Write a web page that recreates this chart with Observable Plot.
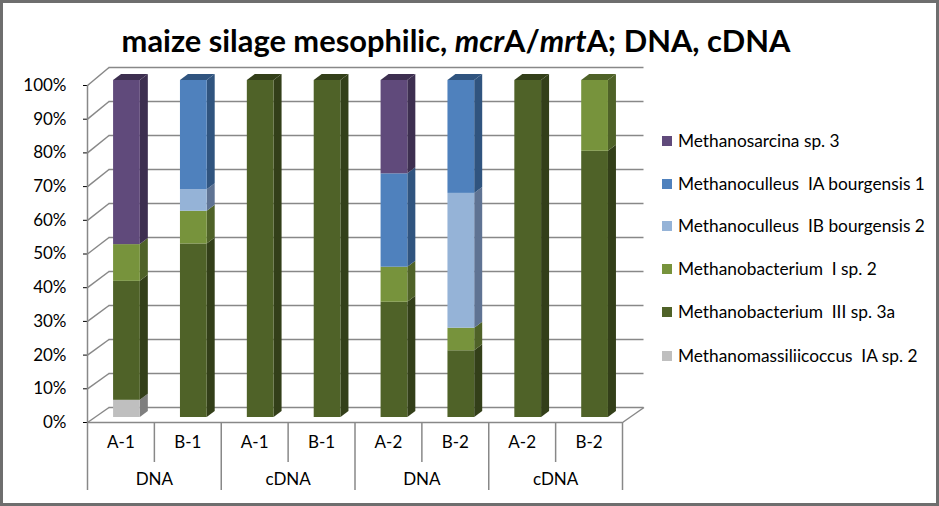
<!DOCTYPE html>
<html><head><meta charset="utf-8">
<script src="https://cdn.jsdelivr.net/npm/d3@7"></script>
<script src="https://cdn.jsdelivr.net/npm/@observablehq/plot@0.6"></script>
<style>
html,body{margin:0;padding:0;background:#fff;}
#chart{position:relative;width:939px;height:506px;overflow:hidden;background:#fff;font-family:Lato,"Open Sans",sans-serif;color:#000;}
#plot{position:absolute;left:0;top:0;}
#frame{position:absolute;left:0;top:0;width:939px;height:506px;box-sizing:border-box;border:3px solid #6e6e6e;pointer-events:none;}
#title{position:absolute;left:0;width:912px;top:24px;text-align:center;font-weight:bold;font-size:28px;line-height:34px;white-space:nowrap;}
.lg{position:absolute;left:662px;height:20px;white-space:pre;font-size:16px;line-height:20px;}
.lg .sw{position:absolute;left:0;top:5px;width:10px;height:10px;}
.lg .tx{position:absolute;left:16px;top:0;}
</style></head><body>
<div id="chart"><div id="plot"></div>
<div id="title"><span id="tspan">maize silage mesophilic, <i>mcr</i>A/<i>mrt</i>A; DNA, cDNA</span></div>
<div id="legend"></div>
<div id="frame"></div></div>
<script>
// ---- data ----
const categories = ["A-1","B-1","A-1","B-1","A-2","B-2","A-2","B-2"];
const groups = ["DNA","cDNA","DNA","cDNA"];
const yTicks = [0,0.1,0.2,0.3,0.4,0.5,0.6,0.7,0.8,0.9,1];
// series, bottom of stack to top (percent)
const seriesNames = ["Methanomassiliicoccus  IA sp. 2","Methanobacterium  III sp. 3a","Methanobacterium  I sp. 2","Methanoculleus  IB bourgensis 2","Methanoculleus  IA bourgensis 1","Methanosarcina sp. 3"];
const massiliicoccusIA2 = [5.1, 0, 0, 0, 0, 0, 0, 0];
const bacteriumIII3a   = [35.3, 51.5, 100, 100, 34.2, 19.8, 100, 79.0];
const bacteriumI2      = [10.9, 9.7, 0, 0, 10.4, 6.7, 0, 21.0];
const culleusIB2       = [0, 6.4, 0, 0, 0, 40.0, 0, 0];
const culleusIA1       = [0, 32.4, 0, 0, 27.7, 33.5, 0, 0];
const sarcina3         = [48.7, 0, 0, 0, 27.7, 0, 0, 0];
const seriesValues = [massiliicoccusIA2, bacteriumIII3a, bacteriumI2, culleusIB2, culleusIA1, sarcina3];
const frontColors = ["#BFBFBF","#4F6228","#77933C","#95B3D7","#4F81BD","#604A7B"];
const sideColors  = ["#7F7F7F","#333F19","#4F6228","#5F7393","#30547F","#3D2F50"];

// ---- geometry (style constants) ----
const X0 = 0.39, BW = 0.40;        // front face inside each category band
const BDX = 8/66.875, BDY = 6/337; // bar depth
const WX = 21.5/66.875, WY0 = 15/337, WS = 340/337; // wall depth
const grid = "#888888";
const N = categories.length;

// stacked segments
const segs = [];
categories.forEach((c, i) => {
  let acc = 0;
  seriesValues.forEach((vals, s) => {
    const v = vals[i] / 100;
    if (v > 0) segs.push({id: i + "-" + s, i, s, y1: acc, y2: acc + v});
    acc += v;
  });
});
const sidePts = segs.flatMap(d => [
  {id: d.id, s: d.s, x: d.i + X0 + BW, y1: d.y1, y2: d.y2},
  {id: d.id, s: d.s, x: d.i + X0 + BW + BDX, y1: d.y1 + BDY, y2: d.y2 + BDY}
]);
const tops = categories.map((c, i) => segs.filter(d => d.i === i).pop());
const topPts = tops.flatMap(d => {
  const a = d.i + X0, b = d.i + X0 + BW, t = d.y2;
  return [
    {id: d.id, s: d.s, x: a, y1: t, y2: t},
    {id: d.id, s: d.s, x: a + BDX, y1: t, y2: t + BDY},
    {id: d.id, s: d.s, x: b, y1: t, y2: t + BDY},
    {id: d.id, s: d.s, x: b + BDX, y1: t + BDY, y2: t + BDY}
  ];
});
const bounds = d3.range(N + 1);

const plot = Plot.plot({
  width: 939, height: 506,
  marginLeft: 87, marginRight: 317, marginTop: 85, marginBottom: 84,
  style: {fontFamily: "Lato, 'Open Sans', sans-serif", fontSize: "17px", background: "transparent", color: "#000"},
  x: {type: "linear", domain: [0, N], axis: null},
  y: {type: "linear", domain: [0, 1], ticks: yTicks, tickFormat: d3.format(".0%"), tickSize: 4, tickPadding: 17, label: null},
  marks: [
    // back wall gridlines
    Plot.ruleY(yTicks, {y: d => d * WS + WY0, x1: () => WX, x2: () => N + WX, stroke: grid, strokeWidth: 1.5}),
    // side wall diagonals
    Plot.link(yTicks, {x1: () => 0, y1: d => d, x2: () => WX, y2: d => d * WS + WY0, stroke: grid, strokeWidth: 1.5}),
    // floor front + right edge
    Plot.ruleY([0], {y: d => d, x1: () => 0, x2: () => N, stroke: grid, strokeWidth: 1.5}),
    Plot.link([0], {x1: () => N, y1: d => d, x2: () => N + WX, y2: d => d + WY0, stroke: grid, strokeWidth: 1.5}),
    // axis line
    Plot.ruleX([0], {x: d => d, y1: () => 0, y2: () => 1, stroke: grid, strokeWidth: 1.5}),
    // category separators
    Plot.ruleX(bounds, {x: d => d, y1: () => 0, y2: d => d % 2 === 0 ? -68/337 : -40/337, stroke: grid, strokeWidth: 1.5}),
    // bars: side faces, top faces, front faces
    Plot.areaY(sidePts, {x: "x", y1: "y1", y2: "y2", z: "id", fill: d => sideColors[d.s], dy: -5, curve: "linear"}),
    Plot.areaY(topPts, {x: "x", y1: "y1", y2: "y2", z: "id", fill: d => sideColors[d.s], dy: -5, curve: "linear"}),
    Plot.rect(segs, {x1: d => d.i + X0, x2: d => d.i + X0 + BW, y1: "y1", y2: "y2", fill: d => frontColors[d.s], dy: -5}),
    // category labels
    Plot.text(categories, {x: (d, i) => i + 0.5, y: () => 0, dy: 20, text: d => d, fill: "#000", fontSize: 17}),
    Plot.text(groups, {x: (d, i) => 2 * i + 1, y: () => 0, dy: 57, text: d => d, fill: "#000", fontSize: 17})
  ]
});
document.getElementById("plot").appendChild(plot);

// legend (top entry = top of stack)
const legend = document.getElementById("legend");
const rowY = [141, 183.5, 226, 269, 312, 355.5];
const txs = [];
seriesNames.slice().reverse().forEach((name, k) => {
  const s = seriesNames.length - 1 - k;
  const row = document.createElement("div");
  row.className = "lg";
  row.style.top = (rowY[k] - 10) + "px";
  row.innerHTML = `<div class="sw" style="background:${frontColors[s]}"></div><div class="tx"></div>`;
  const tx = row.querySelector(".tx");
  tx.textContent = name;
  txs.push(tx);
  legend.appendChild(row);
});
// fit legend text width to reference (longest entry ~247px)
const lw = d3.max(txs, t => t.getBoundingClientRect().width);
const lfs = 16 * 247 / lw;
document.querySelectorAll(".lg").forEach(r => r.style.fontSize = lfs + "px");
// fit title width to reference
const ts = document.getElementById("tspan");
const w = ts.getBoundingClientRect().width;
document.getElementById("title").style.fontSize = (28 * 669 / w) + "px";
</script>
</body></html>
